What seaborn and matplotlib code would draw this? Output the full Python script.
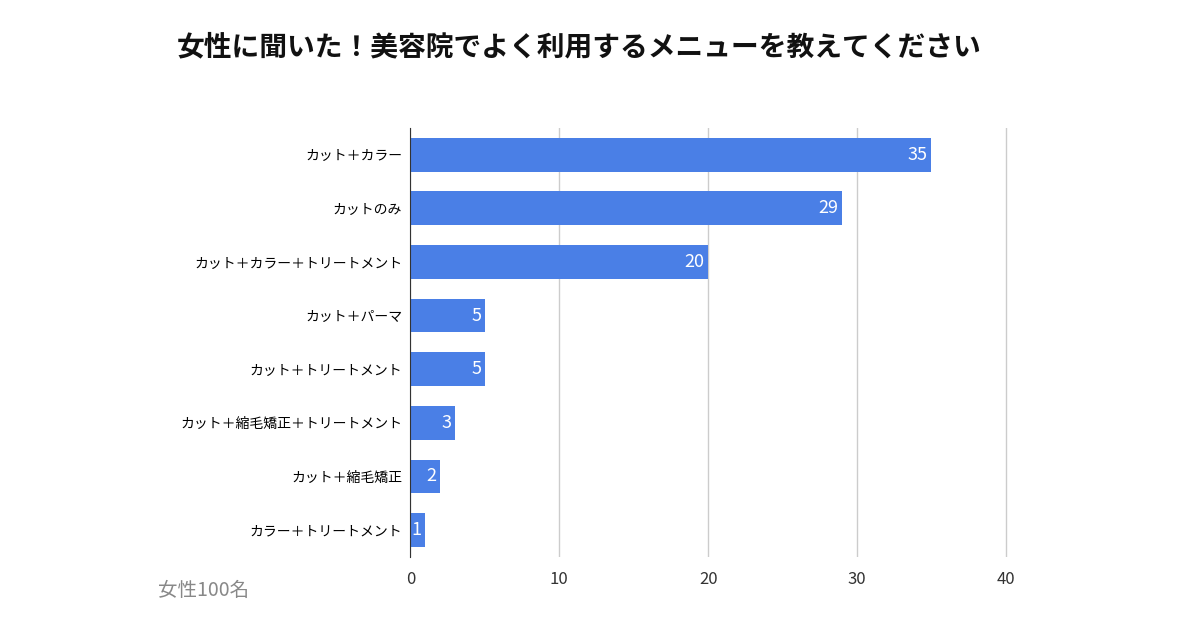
import matplotlib
matplotlib.use("Agg")
import matplotlib.pyplot as plt
import pandas as pd
import seaborn as sns

plt.rcParams["font.family"] = "Noto Sans CJK JP"

menus = ["カット＋カラー", "カットのみ", "カット＋カラー＋トリートメント", "カット＋パーマ",
         "カット＋トリートメント", "カット＋縮毛矯正＋トリートメント", "カット＋縮毛矯正", "カラー＋トリートメント"]
counts = [35, 29, 20, 5, 5, 3, 2, 1]
ticks = [0, 10, 20, 30, 40]

df = pd.DataFrame({"menu": menus, "count": counts})

fig = plt.figure(figsize=(12, 6.3), dpi=100)
ax = fig.add_axes([0.342, 0.116, 0.5, 0.681])
sns.barplot(data=df, y="menu", x="count", color="#4a7fe6", saturation=1, width=0.63, ax=ax)
ax.set_xlim(0, 40.3)
ax.set_xticks(ticks)
ax.set_xlabel("")
ax.set_ylabel("")
ax.grid(axis="x", color="#cccccc", linewidth=1)
ax.set_axisbelow(True)
for s in ["top", "right", "bottom"]:
    ax.spines[s].set_visible(False)
ax.spines["left"].set_color("#333333")
ax.tick_params(axis="y", length=0, labelsize=10, pad=6)
ax.tick_params(axis="x", length=0, labelsize=12, colors="#333333", pad=10)
for i, v in enumerate(counts):
    ax.text(v - 0.25, i, str(v), color="white", ha="right", va="center", fontsize=13)

fig.text(0.483, 0.925, "女性に聞いた！美容院でよく利用するメニューを教えてください",
         ha="center", va="center", fontsize=20, fontweight="bold", color="#111111")
fig.text(0.132, 0.063, "女性100名", ha="left", va="center", fontsize=14, color="#888888")
fig.savefig("out.png", dpi=100, facecolor="white")
